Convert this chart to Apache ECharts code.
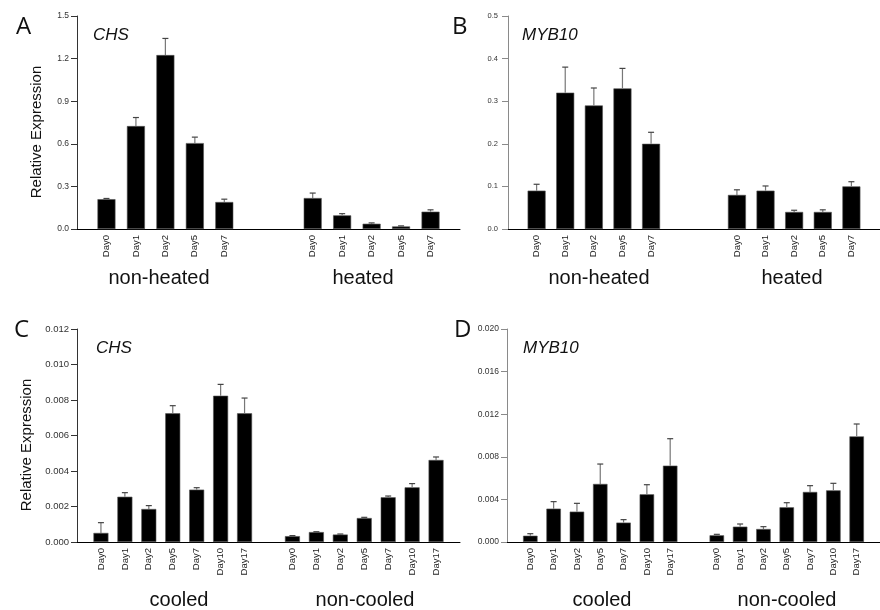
<!DOCTYPE html>
<html>
<head>
<meta charset="utf-8">
<script src="https://cdn.jsdelivr.net/npm/echarts@6/dist/echarts.min.js"></script>
<style>
  html, body { margin: 0; padding: 0; background: #fff; }
  #chart { width: 880px; height: 610px; }
</style>
</head>
<body>
<div id="chart"></div>
<script>
// time points
const daysHeat = ['Day0', 'Day1', 'Day2', 'Day5', 'Day7']
const daysCool = ['Day0', 'Day1', 'Day2', 'Day5', 'Day7', 'Day10', 'Day17']

// A: CHS, heat treatment
const chsNonHeated = [0.21, 0.725, 1.225, 0.605, 0.19]
const chsNonHeatedErr = [0.005, 0.06, 0.117, 0.042, 0.02]
const chsHeated = [0.218, 0.096, 0.037, 0.018, 0.122]
const chsHeatedErr = [0.035, 0.012, 0.006, 0.004, 0.013]

// B: MYB10, heat treatment
const mybNonHeated = [0.09, 0.32, 0.29, 0.33, 0.2]
const mybNonHeatedErr = [0.015, 0.06, 0.041, 0.047, 0.027]
const mybHeated = [0.08, 0.09, 0.04, 0.04, 0.1]
const mybHeatedErr = [0.012, 0.011, 0.004, 0.005, 0.011]

// C: CHS, cold treatment
const chsCooled = [0.00051, 0.00255, 0.00186, 0.00725, 0.00295, 0.00824, 0.00725]
const chsCooledErr = [0.00058, 0.00023, 0.00019, 0.00043, 0.00011, 0.00064, 0.00086]
const chsNonCooled = [0.00033, 0.00056, 0.00042, 0.00135, 0.00252, 0.00308, 0.00462]
const chsNonCooledErr = [0.00003, 0.00002, 0.00003, 0.00004, 0.00007, 0.00021, 0.00017]

// D: MYB10, cold treatment
const mybCooled = [0.00059, 0.00313, 0.00285, 0.00545, 0.00182, 0.00448, 0.00717]
const mybCooledErr = [0.00019, 0.00066, 0.00078, 0.00187, 0.00028, 0.0009, 0.00253]
const mybNonCooled = [0.00063, 0.00144, 0.00122, 0.00326, 0.0047, 0.00485, 0.00992]
const mybNonCooledErr = [0.00009, 0.00025, 0.00022, 0.00043, 0.00059, 0.00066, 0.00116]

const panels = [
  {
    letter: 'A', gene: 'CHS', days: daysHeat, gap: 2,
    g1: chsNonHeated, e1: chsNonHeatedErr, g2: chsHeated, e2: chsHeatedErr,
    names: ['non-heated', 'heated'], namePos: [[159, 278], [363, 278]],
    grid: { left: 77, top: 16, width: 383, height: 213 },
    yMax: 1.5, yStep: 0.3, digits: 1, tickFont: 8.5, axisColor: '#333', labelMargin: 8,
    barWidth: 18, ylabel: [37, 132], letterPos: [25, 29], genePos: [93, 35]
  },
  {
    letter: 'B', gene: 'MYB10', days: daysHeat, gap: 2,
    g1: mybNonHeated, e1: mybNonHeatedErr, g2: mybHeated, e2: mybHeatedErr,
    names: ['non-heated', 'heated'], namePos: [[599, 278], [792, 278]],
    grid: { left: 508, top: 16, width: 382, height: 213 },
    yMax: 0.5, yStep: 0.1, digits: 1, tickFont: 7.5, axisColor: '#8a8a8a', labelMargin: 10,
    barWidth: 18, ylabel: null, letterPos: [461, 29], genePos: [522, 35]
  },
  {
    letter: 'C', gene: 'CHS', days: daysCool, gap: 1,
    g1: chsCooled, e1: chsCooledErr, g2: chsNonCooled, e2: chsNonCooledErr,
    names: ['cooled', 'non-cooled'], namePos: [[179, 600], [365, 600]],
    grid: { left: 77, top: 329, width: 383, height: 213 },
    yMax: 0.012, yStep: 0.002, digits: 3, tickFont: 9.5, axisColor: '#333', labelMargin: 8,
    barWidth: 15, ylabel: [27, 445], letterPos: [23, 332], genePos: [96, 348]
  },
  {
    letter: 'D', gene: 'MYB10', days: daysCool, gap: 1,
    g1: mybCooled, e1: mybCooledErr, g2: mybNonCooled, e2: mybNonCooledErr,
    names: ['cooled', 'non-cooled'], namePos: [[602, 600], [787, 600]],
    grid: { left: 507, top: 329, width: 381, height: 213 },
    yMax: 0.020, yStep: 0.004, digits: 3, tickFont: 8.5, axisColor: '#8a8a8a', labelMargin: 8,
    barWidth: 14.5, ylabel: null, letterPos: [463, 332], genePos: [523, 348]
  }
]

const blanks = (n) => Array(n).fill(null)

const grids = []
const xAxes = []
const yAxes = []
const series = []
const graphics = []

panels.forEach((p, i) => {
  const cats = [''].concat(p.days, Array(p.gap).fill(''), p.days, [''])
  const vals = [null].concat(p.g1, blanks(p.gap), p.g2, [null])
  const errs = [null].concat(p.e1, blanks(p.gap), p.e2, [null])

  grids.push(p.grid)
  xAxes.push({
    type: 'category',
    gridIndex: i,
    data: cats,
    boundaryGap: false,
    axisLine: { lineStyle: { color: '#000', width: 1 } },
    axisTick: { show: false },
    axisLabel: {
      interval: 0, rotate: 90, margin: 6,
      fontSize: 9.5, color: '#222', fontFamily: 'Liberation Sans'
    },
    splitLine: { show: false }
  })
  yAxes.push({
    type: 'value',
    gridIndex: i,
    min: 0,
    max: p.yMax,
    interval: p.yStep,
    axisLine: { show: true, lineStyle: { color: p.axisColor, width: 1 } },
    axisTick: { show: true, length: 6, lineStyle: { color: p.axisColor } },
    axisLabel: {
      margin: p.labelMargin, fontSize: p.tickFont, color: '#333',
      fontFamily: 'Liberation Sans',
      formatter: (v) => v.toFixed(p.digits)
    },
    splitLine: { show: false }
  })

  series.push({
    type: 'bar',
    xAxisIndex: i,
    yAxisIndex: i,
    data: vals,
    barWidth: p.barWidth,
    itemStyle: { color: '#000', borderColor: '#555', borderWidth: 0.6 },
    animation: false
  })

  const errData = []
  vals.forEach((v, k) => {
    if (v != null) errData.push([k, v, v + errs[k]])
  })
  series.push({
    type: 'custom',
    xAxisIndex: i,
    yAxisIndex: i,
    data: errData,
    encode: { x: 0, y: [1, 2] },
    z: 5,
    animation: false,
    renderItem: (params, api) => {
      const base = api.coord([api.value(0), api.value(1)])
      const top = api.coord([api.value(0), api.value(2)])
      return {
        type: 'group',
        children: [
          {
            type: 'line',
            shape: { x1: base[0], y1: base[1], x2: top[0], y2: top[1] },
            style: { stroke: '#777', lineWidth: 1.2 }
          },
          {
            type: 'line',
            shape: { x1: top[0] - 3, y1: top[1], x2: top[0] + 3, y2: top[1] },
            style: { stroke: '#444', lineWidth: 1.2 }
          }
        ]
      }
    }
  })

  graphics.push({
    type: 'text', left: p.letterPos[0] - 9, top: p.letterPos[1] - 14,
    style: { text: p.letter, font: '24px "Open Sans"', fill: '#111' }
  })
  graphics.push({
    type: 'text', x: p.genePos[0], y: p.genePos[1],
    style: {
      text: p.gene, font: 'italic 17px "Liberation Sans"', fill: '#111',
      verticalAlign: 'middle'
    }
  })
  p.names.forEach((nm, k) => {
    graphics.push({
      type: 'text', x: p.namePos[k][0], y: p.namePos[k][1],
      style: {
        text: nm, font: '20px "Liberation Sans"', fill: '#111',
        align: 'center', verticalAlign: 'middle'
      }
    })
  })
  if (p.ylabel) {
    graphics.push({
      type: 'text', x: p.ylabel[0], y: p.ylabel[1], rotation: Math.PI / 2,
      style: {
        text: 'Relative Expression', font: '15px "Liberation Sans"', fill: '#111',
        align: 'center', verticalAlign: 'middle'
      }
    })
  }
})

const chart = echarts.init(document.getElementById('chart'), null, { renderer: 'canvas' })
chart.setOption({
  backgroundColor: '#fff',
  animation: false,
  grid: grids,
  xAxis: xAxes,
  yAxis: yAxes,
  series: series,
  graphic: graphics
})
</script>
</body>
</html>
